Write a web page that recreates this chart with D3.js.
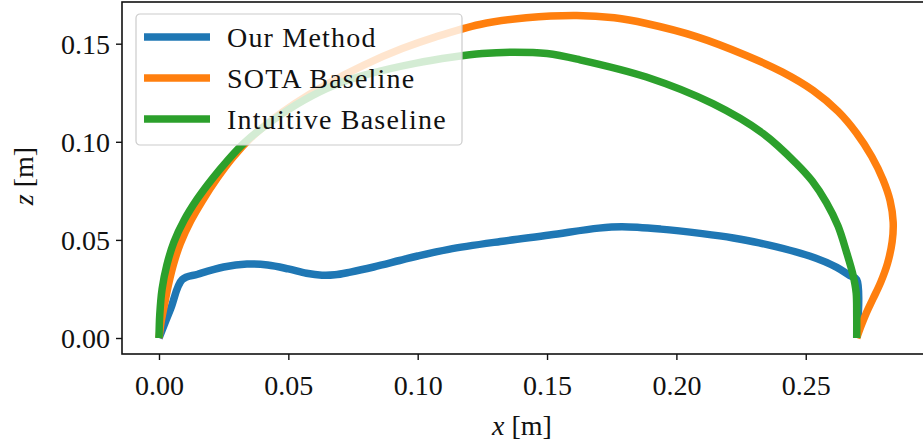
<!DOCTYPE html>
<html>
<head>
<meta charset="utf-8">
<script src="https://cdn.jsdelivr.net/npm/d3@7"></script>
<style>
  html, body { margin: 0; padding: 0; background: #fff; }
  svg { display: block; }
  text { font-family: "Liberation Serif", "Times New Roman", serif; fill: #111; }
</style>
</head>
<body>
<svg id="chart" width="923" height="446"></svg>
<script>
// Trajectories in the x-z plane, metres
const ourX = [0, 0.0045, 0.009, 0.015, 0.025, 0.034, 0.042, 0.050, 0.057, 0.063, 0.068, 0.074, 0.083, 0.093, 0.100, 0.112, 0.132, 0.151, 0.170, 0.179, 0.194, 0.210, 0.222, 0.232, 0.2515, 0.262, 0.267, 0.2697, 0.2697];
const ourZ = [0, 0.0149, 0.0298, 0.0325, 0.0362, 0.0377, 0.0372, 0.0352, 0.0330, 0.0320, 0.0322, 0.0336, 0.0362, 0.0395, 0.0418, 0.0452, 0.0492, 0.0525, 0.0560, 0.0567, 0.0555, 0.0532, 0.0510, 0.0485, 0.0418, 0.0360, 0.0318, 0.0298, 0];

const sotaX = [0, 0.0008, 0.0022, 0.0038, 0.0057, 0.0082, 0.0122, 0.0168, 0.0225, 0.0285, 0.0355, 0.0435, 0.0525, 0.0650, 0.0790, 0.0940, 0.1070, 0.1240, 0.1420, 0.1615, 0.176, 0.1884, 0.208, 0.227, 0.241, 0.2528, 0.2625, 0.2696, 0.2755, 0.2799, 0.2826, 0.2838, 0.2834, 0.2816, 0.2790, 0.2760, 0.2735, 0.2715, 0.2697];
const sotaZ = [0, 0.0080, 0.0176, 0.0280, 0.0380, 0.0480, 0.0595, 0.0700, 0.0815, 0.0920, 0.1020, 0.1110, 0.1195, 0.1295, 0.1390, 0.1475, 0.1535, 0.1598, 0.1632, 0.1644, 0.1632, 0.1603, 0.1535, 0.1440, 0.1355, 0.1262, 0.1155, 0.1045, 0.0925, 0.0806, 0.0700, 0.0590, 0.0490, 0.0380, 0.0285, 0.0200, 0.0130, 0.0065, 0];

const intuitiveX = [0, 0.0003, 0.0012, 0.0030, 0.0058, 0.0097, 0.0146, 0.0205, 0.0265, 0.0330, 0.0440, 0.0558, 0.0680, 0.0815, 0.0990, 0.1137, 0.1250, 0.1368, 0.150, 0.1627, 0.1884, 0.2141, 0.2335, 0.2464, 0.2525, 0.258, 0.2625, 0.2657, 0.2683, 0.2695, 0.2697, 0.2697];
const intuitiveZ = [0, 0.0120, 0.0250, 0.0370, 0.0490, 0.0600, 0.0705, 0.0810, 0.0905, 0.0995, 0.1110, 0.1211, 0.1290, 0.1347, 0.1400, 0.1432, 0.1450, 0.1457, 0.1450, 0.1418, 0.1330, 0.1194, 0.1042, 0.0889, 0.0800, 0.0690, 0.0570, 0.0440, 0.0320, 0.0230, 0.0120, 0];

const seriesNames = ["Our Method", "SOTA Baseline", "Intuitive Baseline"];
const seriesColors = ["#1f77b4", "#ff7f0e", "#2ca02c"];

const xTicks = [0, 0.05, 0.10, 0.15, 0.20, 0.25];
const yTicks = [0, 0.05, 0.10, 0.15];

const svg = d3.select("#chart");
const plot = { left: 122, right: 925, top: 2, bottom: 354 };

const x = d3.scaleLinear().domain([-0.0143, 0.2961]).range([plot.left, plot.right]);
const y = d3.scaleLinear().domain([-0.00815, 0.17125]).range([plot.bottom, plot.top]);

const series = [
  ourX.map((v, i) => [v, ourZ[i]]),
  sotaX.map((v, i) => [v, sotaZ[i]]),
  intuitiveX.map((v, i) => [v, intuitiveZ[i]])
];

const line = d3.line()
  .x(d => x(d[0]))
  .y(d => y(d[1]))
  .curve(d3.curveCatmullRom.alpha(0.5));

svg.append("defs").append("clipPath").attr("id", "plotClip")
  .append("rect")
  .attr("x", plot.left).attr("y", plot.top)
  .attr("width", plot.right - plot.left).attr("height", plot.bottom - plot.top);

const lines = svg.append("g").attr("clip-path", "url(#plotClip)");
series.forEach((pts, i) => {
  lines.append("path")
    .datum(pts)
    .attr("d", line)
    .attr("fill", "none")
    .attr("stroke", seriesColors[i])
    .attr("stroke-width", 7.5)
    .attr("stroke-linejoin", "round")
    .attr("stroke-linecap", "butt");
});

// Axes
const xAxis = d3.axisBottom(x).tickValues(xTicks).tickFormat(d3.format(".2f")).tickSize(6).tickPadding(8);
const yAxis = d3.axisLeft(y).tickValues(yTicks).tickFormat(d3.format(".2f")).tickSize(6).tickPadding(6);

const gx = svg.append("g").attr("transform", `translate(0,${plot.bottom})`).call(xAxis);
const gy = svg.append("g").attr("transform", `translate(${plot.left},0)`).call(yAxis);
[gx, gy].forEach(g => {
  g.select(".domain").remove();
  g.selectAll(".tick line").attr("stroke", "#111").attr("stroke-width", 1.4);
  g.selectAll(".tick text")
    .attr("fill", "#111")
    .style("font-family", '"Liberation Serif", serif')
    .style("font-size", "28px");
});
gx.selectAll(".tick text").attr("dy", "0.95em");
gy.selectAll(".tick text").attr("dy", "0.34em");

// Frame
svg.append("rect")
  .attr("x", plot.left).attr("y", plot.top)
  .attr("width", plot.right - plot.left).attr("height", plot.bottom - plot.top)
  .attr("fill", "none").attr("stroke", "#111").attr("stroke-width", 1.6);

// Axis labels
const xl = svg.append("text")
  .attr("x", 522).attr("y", 435)
  .attr("text-anchor", "middle")
  .style("font-size", "28px");
xl.append("tspan").attr("font-style", "italic").text("x");
xl.append("tspan").text(" [m]");

const yl = svg.append("text")
  .attr("transform", "translate(33,176) rotate(-90)")
  .attr("text-anchor", "middle")
  .style("font-size", "28px");
yl.append("tspan").attr("font-style", "italic").text("z");
yl.append("tspan").text(" [m]");

// Legend
const legend = svg.append("g").attr("transform", "translate(136,14)");
legend.append("rect")
  .attr("x", 0).attr("y", 0)
  .attr("width", 326).attr("height", 131)
  .attr("rx", 4).attr("ry", 4)
  .attr("fill", "#fff").attr("fill-opacity", 0.8)
  .attr("stroke", "#ccc").attr("stroke-width", 1.2);

seriesNames.forEach((name, i) => {
  const cy = 23 + i * 41;
  legend.append("line")
    .attr("x1", 8).attr("x2", 74)
    .attr("y1", cy).attr("y2", cy)
    .attr("stroke", seriesColors[i])
    .attr("stroke-width", 7.5);
  legend.append("text")
    .attr("x", 91).attr("y", cy)
    .attr("dy", "0.35em")
    .style("font-size", "28px")
    .style("letter-spacing", "1.2px")
    .text(name);
});
</script>
</body>
</html>
